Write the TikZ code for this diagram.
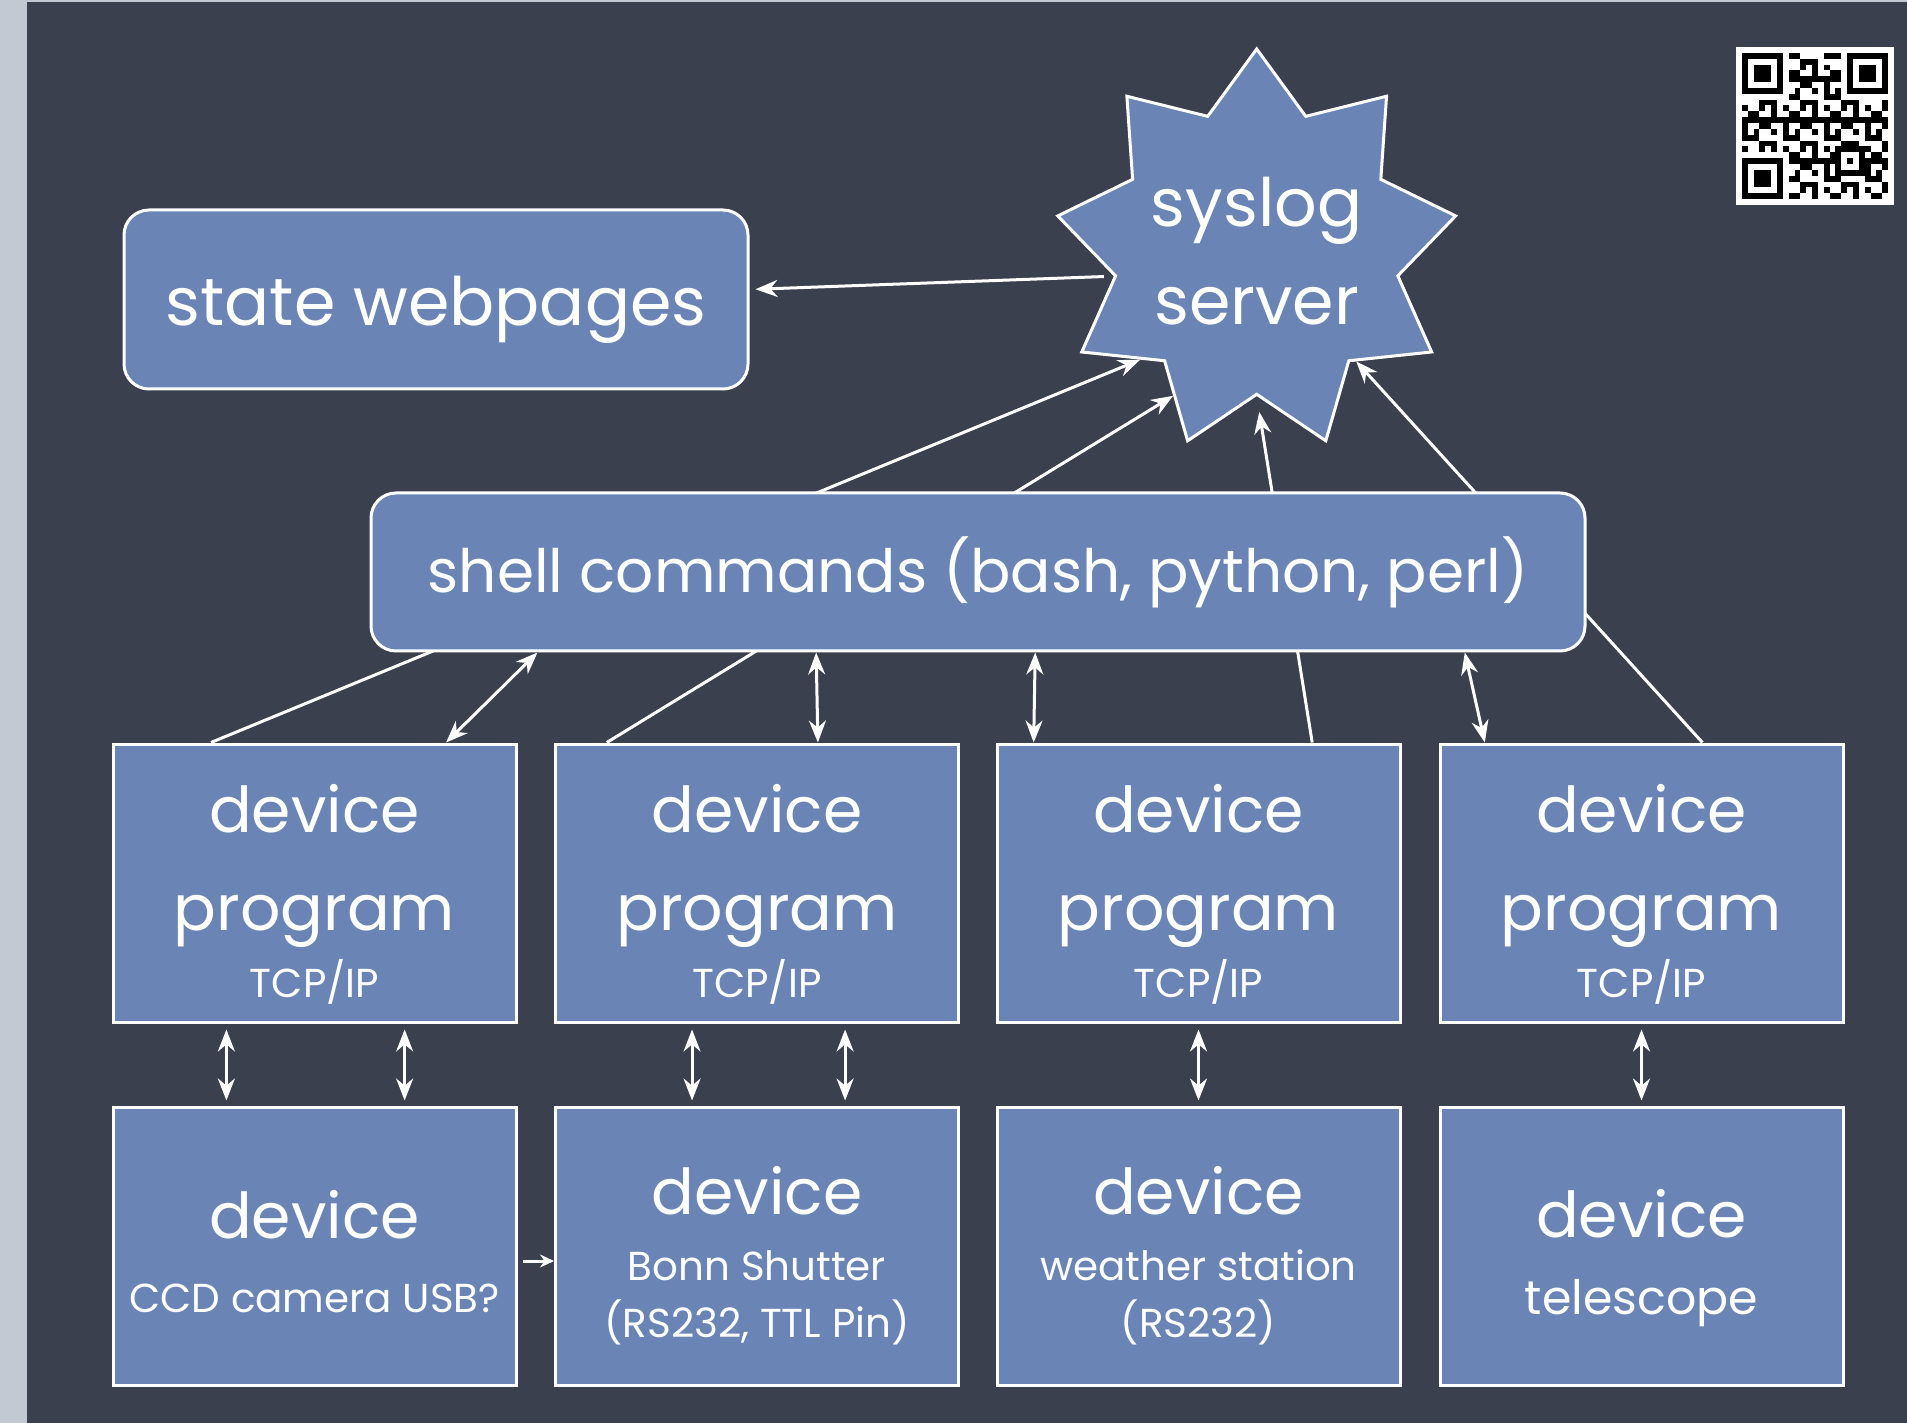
\documentclass[tikz,border=0pt]{standalone}
\usepackage{fontspec}
\setmainfont{Poppins}
\usepackage{tikz}
\usetikzlibrary{shapes.geometric, arrows.meta, calc}

\definecolor{boardgray}{HTML}{3B404E}
\definecolor{skystrip}{HTML}{C3C9D3}
\definecolor{chalkblue}{HTML}{6A85B5}

\newcommand{\bigtxt}{\fontsize{18}{28}\selectfont}
\newcommand{\smalltxt}{\fontsize{11.5}{16}\selectfont}

\tikzset{
  chalkbox/.style={
    draw=white, line width=0.3mm, fill=chalkblue, text=white,
    align=center, font=\bigtxt, inner sep=0pt,
    minimum width=40.3mm, minimum height=27.8mm
  },
  chalkround/.style={
    draw=white, line width=0.3mm, fill=chalkblue, text=white,
    rounded corners=2.5mm, align=center, inner sep=0pt
  },
  chalkstar/.style={
    star, star points=9, star point ratio=1.41, minimum size=40.4mm,
    draw=white, line width=0.3mm, fill=chalkblue, text=white,
    align=center, font=\fontsize{19}{28}\selectfont, inner sep=-1.5mm
  },
  chalkarrow/.style={
    draw=white, line width=0.3mm, -{Stealth[length=2.2mm, width=1.7mm]}
  },
  chalkboth/.style={
    draw=white, line width=0.3mm,
    {Stealth[length=2.2mm, width=1.7mm]}-{Stealth[length=2.2mm, width=1.7mm]}
  },
}

\begin{document}
\begin{tikzpicture}[x=0.1mm, y=-0.1mm]
  \useasboundingbox (0,0) rectangle (1907,1423);

  % Board
  \fill[skystrip] (0,0) rectangle (1907,1423);
  \fill[boardgray] (27,2) rectangle (1907,1423);

  % Server and web pages
  \node[chalkstar] (syslog) at (1256.7,251) {syslog\\server};
  \node[chalkround, font=\fontsize{19}{28}\selectfont,
    minimum width=62.4mm, minimum height=17.9mm] (web)
    at (436,299.5) {\rule{0pt}{20pt}state webpages};

  % Device programs
  \node[chalkbox] (dp1) at (314.5,883)
    {\rule{0pt}{20pt}device\\program\\[-9pt]{\smalltxt TCP/IP}};
  \node[chalkbox] (dp2) at (757,883)
    {\rule{0pt}{20pt}device\\program\\[-9pt]{\smalltxt TCP/IP}};
  \node[chalkbox] (dp3) at (1198.5,883)
    {\rule{0pt}{20pt}device\\program\\[-9pt]{\smalltxt TCP/IP}};
  \node[chalkbox] (dp4) at (1641.5,883)
    {\rule{0pt}{20pt}device\\program\\[-9pt]{\smalltxt TCP/IP}};

  % Devices
  \node[chalkbox] (dv1) at (314.5,1246)
    {\rule{0pt}{17pt}device\\[-7pt]{\smalltxt CCD camera USB?}};
  \node[chalkbox] (dv2) at (757,1246)
    {\rule{0pt}{19pt}device\\[-9pt]{\smalltxt Bonn Shutter}\\[-12pt]{\smalltxt (RS232, TTL Pin)}};
  \node[chalkbox] (dv3) at (1198.5,1246)
    {\rule{0pt}{19pt}device\\[-9pt]{\smalltxt weather station}\\[-12pt]{\smalltxt (RS232)}};
  \node[chalkbox] (dv4) at (1641.5,1246)
    {\rule{0pt}{20.5pt}device\\[-6pt]{\fontsize{13.5}{18}\selectfont telescope}};

  % Log lines, running behind the shell box
  \draw[chalkarrow] ($(dp1.north west)!0.245!(dp1.north east)$) -- (syslog.223.5);
  \draw[chalkarrow] ($(dp2.north west)!0.13!(dp2.north east)$) -- (syslog.240);
  \draw[chalkarrow, shorten >=1.6mm] ($(dp3.north west)!0.78!(dp3.north east)$) -- (syslog.270);
  \draw[chalkarrow] ($(dp4.north west)!0.65!(dp4.north east)$) -- (syslog.312);

  % Shell box
  \node[chalkround, font=\fontsize{17}{28}\selectfont,
    minimum width=121.4mm, minimum height=15.8mm] (shell)
    at (978,572) {shell commands (bash, python, perl)};

  % Web pages from syslog
  \draw[chalkarrow, shorten <=1mm, shorten >=0.6mm] (syslog.190) -- ([yshift=1mm]web.east);

  % Shell to device programs
  \draw[chalkboth] ($(shell.south west)!0.138!(shell.south east)$) -- ($(dp1.north west)!0.824!(dp1.north east)$);
  \draw[chalkboth] ($(shell.south west)!0.367!(shell.south east)$) -- ($(dp2.north west)!0.65!(dp2.north east)$);
  \draw[chalkboth] ($(shell.south west)!0.547!(shell.south east)$) -- ($(dp3.north west)!0.094!(dp3.north east)$);
  \draw[chalkboth] ($(shell.south west)!0.9!(shell.south east)$) -- ($(dp4.north west)!0.114!(dp4.north east)$);

  % Device programs to devices
  \draw[chalkboth, shorten <=0.6mm, shorten >=0.5mm] ($(dp1.south west)!0.283!(dp1.south east)$) -- ($(dv1.north west)!0.283!(dv1.north east)$);
  \draw[chalkboth, shorten <=0.6mm, shorten >=0.5mm] ($(dp1.south west)!0.722!(dp1.south east)$) -- ($(dv1.north west)!0.722!(dv1.north east)$);
  \draw[chalkboth, shorten <=0.6mm, shorten >=0.5mm] ($(dp2.south west)!0.34!(dp2.south east)$) -- ($(dv2.north west)!0.34!(dv2.north east)$);
  \draw[chalkboth, shorten <=0.6mm, shorten >=0.5mm] ($(dp2.south west)!0.717!(dp2.south east)$) -- ($(dv2.north west)!0.717!(dv2.north east)$);
  \draw[chalkboth, shorten <=0.6mm, shorten >=0.5mm] (dp3.south) -- (dv3.north);
  \draw[chalkboth, shorten <=0.6mm, shorten >=0.5mm] (dp4.south) -- (dv4.north);

  % Camera triggers the shutter
  \draw[draw=white, line width=0.3mm, -{Stealth[length=1.4mm, width=1.3mm]}, shorten <=0.5mm]
    ([yshift=-1.5mm]dv1.east) -- ([yshift=-1.5mm]dv2.west);

  % QR code
  \fill[white] (1736,47) rectangle (1894,205);
  \begin{scope}[shift={(1741.85,52.85)}, x=0.585mm, y=-0.585mm]
    \foreach \i in {0,...,24} {
      \foreach \j in {0,...,24} {
        \pgfmathtruncatemacro{\qrbit}{mod(\i*\i*7+\j*\j*3+\i*\j*5+\i+2*\j,7)<3}
        \ifnum\qrbit=1
          \fill[black] (\i,\j) rectangle +(1,1);
        \fi
      }
    }
    \foreach \qx/\qy in {0/0, 18/0, 0/18} {
      \fill[white] (\qx-1,\qy-1) rectangle +(9,9);
      \fill[black] (\qx,\qy) rectangle +(7,7);
      \fill[white] (\qx+1,\qy+1) rectangle +(5,5);
      \fill[black] (\qx+2,\qy+2) rectangle +(3,3);
    }
    \fill[black] (16,16) rectangle +(5,5);
    \fill[white] (17,17) rectangle +(3,3);
    \fill[black] (18,18) rectangle +(1,1);
  \end{scope}
\end{tikzpicture}
\end{document}
